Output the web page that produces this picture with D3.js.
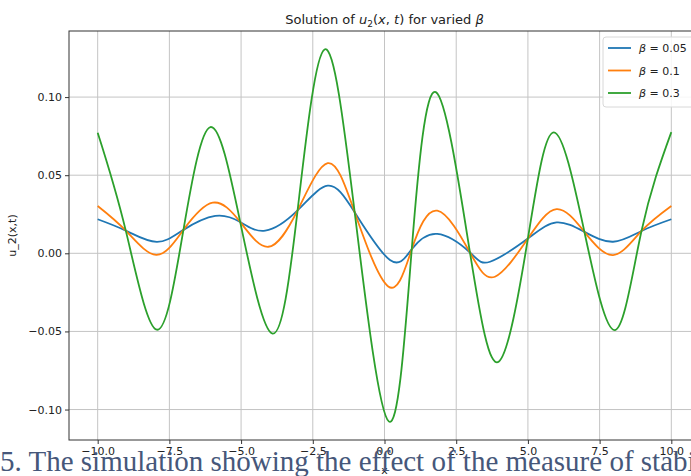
<!DOCTYPE html>
<html>
<head>
<meta charset="utf-8">
<script src="https://cdn.jsdelivr.net/npm/d3@7"></script>
<style>
  body { margin: 0; background: #fff; }
  svg { display: block; }
  .tick text { font-family: "DejaVu Sans", sans-serif; font-size: 11px; fill: #222; }
</style>
</head>
<body>
<div id="chart"></div>
<script>
// values (extrema + crossing points)
const blueX   = [-10, -9.02, -7.94, -7.01, -5.9, -5.03, -4.16, -3.03, -1.98, -1.04, 0.19, 0.95, 1.84, 2.98, 3.68, 5.0, 6.0, 6.97, 7.97, 8.96, 10];
const blueY   = [0.0218, 0.0145, 0.0073, 0.0150, 0.0239, 0.0200, 0.0145, 0.0275, 0.0433, 0.0263, -0.0043, 0.0026, 0.0124, 0.0005, -0.0054, 0.0095, 0.0198, 0.0137, 0.0074, 0.0143, 0.0218];
const orangeX = [-10, -9.02, -7.96, -7.01, -5.99, -5.03, -4.05, -3.03, -1.98, -1.04, 0.13, 0.95, 1.84, 2.98, 3.85, 5.0, 6.0, 6.97, 7.97, 8.96, 10];
const orangeY = [0.0303, 0.0145, -0.0010, 0.0150, 0.0324, 0.0200, 0.0042, 0.0275, 0.0577, 0.0263, -0.0212, 0.0026, 0.0273, 0.0005, -0.0150, 0.0095, 0.0283, 0.0137, -0.0011, 0.0143, 0.0303];
const greenX  = [-10, -9.02, -7.94, -7.01, -6.07, -5.03, -3.90, -3.03, -2.09, -1.04, 0.15, 0.95, 1.79, 2.98, 3.98, 5.0, 5.90, 6.97, 8.04, 8.96, 10];
const greenY  = [0.0772, 0.0145, -0.0489, 0.0150, 0.0808, 0.0200, -0.0514, 0.0275, 0.1305, 0.0263, -0.1076, 0.0026, 0.1032, 0.0005, -0.0694, 0.0095, 0.0774, 0.0137, -0.0491, 0.0143, 0.0776];

const seriesLabels = ["0.05", "0.1", "0.3"];
const xTicks = [-10, -7.5, -5, -2.5, 0, 2.5, 5, 7.5, 10];
const yTicks = [-0.10, -0.05, 0.00, 0.05, 0.10];

const colors = ["#1f77b4", "#ff7f0e", "#2ca02c"];
const width = 691, height = 476;
const margin = {left: 69, top: 31, right: 700, bottom: 440};

const series = [
  blueX.map((x, i) => [x, blueY[i]]),
  orangeX.map((x, i) => [x, orangeY[i]]),
  greenX.map((x, i) => [x, greenY[i]])
];

const svg = d3.select("#chart").append("svg")
  .attr("width", width)
  .attr("height", height);

const xScale = d3.scaleLinear().domain([-11, 11]).range([margin.left, margin.right]);
const yScale = d3.scaleLinear().domain([-0.1195, 0.1423]).range([margin.bottom, margin.top]);

// grid
const grid = svg.append("g").attr("class", "grid");
grid.selectAll(".gx").data(xTicks).enter().append("line")
  .attr("x1", d => xScale(d)).attr("x2", d => xScale(d))
  .attr("y1", margin.top).attr("y2", margin.bottom)
  .attr("stroke", "#c4c4c4").attr("stroke-width", 1);
grid.selectAll(".gy").data(yTicks).enter().append("line")
  .attr("x1", margin.left).attr("x2", margin.right)
  .attr("y1", d => yScale(d)).attr("y2", d => yScale(d))
  .attr("stroke", "#c4c4c4").attr("stroke-width", 1);

// lines
const line = d3.line()
  .x(d => xScale(d[0]))
  .y(d => yScale(d[1]))
  .curve(d3.curveNatural);

svg.append("g").attr("class", "lines")
  .selectAll("path").data(series).enter().append("path")
  .attr("d", line)
  .attr("fill", "none")
  .attr("stroke", (d, i) => colors[i])
  .attr("stroke-width", 1.8);

// axes
const fmtX = d => d3.format(".1f")(d).replace("-", "\u2212");
const fmtY = d => d3.format(".2f")(d).replace("-", "\u2212");

const xAxis = svg.append("g")
  .attr("class", "x-axis")
  .attr("transform", "translate(0," + margin.bottom + ")")
  .call(d3.axisBottom(xScale).tickValues(xTicks).tickSize(4).tickPadding(3).tickFormat(fmtX));
const yAxis = svg.append("g")
  .attr("class", "y-axis")
  .attr("transform", "translate(" + margin.left + ",0)")
  .call(d3.axisLeft(yScale).tickValues(yTicks).tickSize(4).tickPadding(3).tickFormat(fmtY));
[xAxis, yAxis].forEach(a => {
  a.select(".domain").remove();
  a.selectAll(".tick line").attr("stroke", "#333");
});

// spines
svg.append("rect")
  .attr("x", margin.left).attr("y", margin.top)
  .attr("width", margin.right - margin.left)
  .attr("height", margin.bottom - margin.top)
  .attr("fill", "none").attr("stroke", "#333").attr("stroke-width", 1);

// title
const title = svg.append("text")
  .attr("x", (margin.left + margin.right) / 2)
  .attr("y", 24)
  .attr("text-anchor", "middle")
  .style("font-family", "DejaVu Sans, sans-serif")
  .style("font-size", "13px")
  .attr("fill", "#222");
title.append("tspan").text("Solution of ");
title.append("tspan").style("font-style", "italic").text("u");
title.append("tspan").attr("dy", 3).style("font-size", "9px").text("2");
title.append("tspan").attr("dy", -3).text("(");
title.append("tspan").style("font-style", "italic").text("x");
title.append("tspan").text(", ");
title.append("tspan").style("font-style", "italic").text("t");
title.append("tspan").text(") for varied ");
title.append("tspan").style("font-style", "italic").text("\u03b2");

// y label
svg.append("text")
  .attr("transform", "translate(16," + ((margin.top + margin.bottom) / 2) + ") rotate(-90)")
  .attr("text-anchor", "middle")
  .style("font-family", "DejaVu Sans, sans-serif")
  .style("font-size", "11px")
  .attr("fill", "#222")
  .text("u_2(x,t)");

// x label
svg.append("text")
  .attr("x", xScale(0))
  .attr("y", 474)
  .attr("text-anchor", "middle")
  .style("font-family", "DejaVu Sans, sans-serif")
  .style("font-size", "11px")
  .attr("fill", "#222")
  .text("x");

// legend
const legend = svg.append("g").attr("class", "legend")
  .attr("transform", "translate(603,37)");
legend.append("rect")
  .attr("width", 110).attr("height", 70).attr("rx", 3)
  .attr("fill", "#fff").attr("fill-opacity", 0.85)
  .attr("stroke", "#d8d8d8");
const items = legend.selectAll(".item").data(seriesLabels).enter().append("g")
  .attr("class", "item")
  .attr("transform", (d, i) => "translate(0," + (11 + i * 22.5) + ")");
items.append("line")
  .attr("x1", 5).attr("x2", 28)
  .attr("stroke", (d, i) => colors[i]).attr("stroke-width", 1.8);
const lt = items.append("text")
  .attr("x", 36).attr("y", 4)
  .style("font-family", "DejaVu Sans, sans-serif")
  .style("font-size", "11px")
  .attr("fill", "#222");
lt.append("tspan").style("font-style", "italic").text("\u03b2");
lt.append("tspan").text(d => " = " + d);

// caption under the figure
svg.append("text")
  .attr("x", 0)
  .attr("y", 471)
  .style("font-family", "Liberation Serif, Times New Roman, serif")
  .style("font-size", "29px")
  .attr("fill", "#46577a")
  .text("5. The simulation showing the effect of the measure of stability");
</script>
</body>
</html>
